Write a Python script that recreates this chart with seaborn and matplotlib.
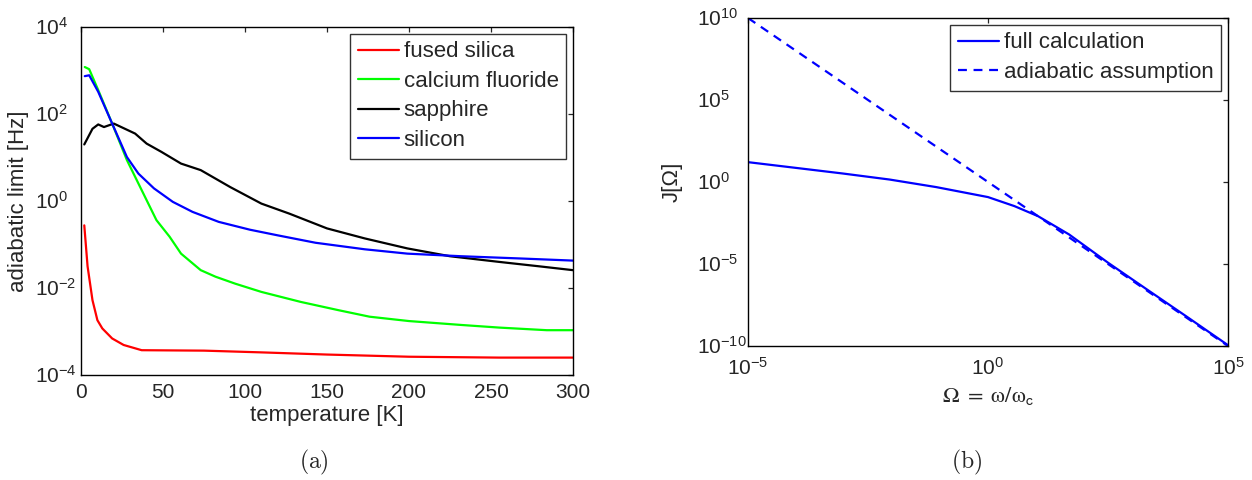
import numpy as np
import pandas as pd
import matplotlib
matplotlib.use('Agg')
import matplotlib.pyplot as plt
import seaborn as sns
from matplotlib.ticker import FixedLocator, FuncFormatter, NullLocator, NullFormatter
from matplotlib.transforms import blended_transform_factory, ScaledTranslation

# Data (log10 of the values)

# (a) adiabatic limit vs temperature
silica_T = [2, 4, 7, 10, 13, 19, 26, 37, 75, 110, 150, 200, 255, 300]
silica_log = [-0.56, -1.5, -2.28, -2.74, -2.93, -3.16, -3.31, -3.43, -3.44, -3.48, -3.53, -3.58, -3.60, -3.60]

caf_T = [2.3, 5, 10.5, 19, 28, 34, 40, 46, 54, 61, 73, 82, 94, 110, 134, 157, 176, 200, 232, 255, 284, 300]
caf_log = [3.08, 3.03, 2.55, 1.78, 0.94, 0.48, 0.02, -0.44, -0.82, -1.21, -1.59, -1.74, -1.90, -2.09,
           -2.32, -2.51, -2.66, -2.76, -2.85, -2.91, -2.97, -2.97]

sapph_T = [2, 7, 10.5, 14, 20, 33, 40, 49, 61, 73, 91, 110, 127, 150, 173, 199, 225, 255, 279, 300]
sapph_log = [1.30, 1.66, 1.76, 1.70, 1.78, 1.55, 1.32, 1.13, 0.86, 0.71, 0.32, -0.06, -0.29, -0.63,
             -0.86, -1.09, -1.27, -1.40, -1.50, -1.59]

si_T = [2.3, 5, 10.5, 19, 28, 35, 44.5, 56, 68, 84, 103, 120, 143, 173, 199, 232, 267, 300]
si_log = [2.87, 2.89, 2.51, 1.78, 1.01, 0.63, 0.29, -0.02, -0.25, -0.48, -0.66, -0.79, -0.96,
          -1.11, -1.21, -1.27, -1.32, -1.37]

# (b) J[Omega]
full_logx = [-5, -4, -3.03, -2.05, -1.08, 0.0, 0.55, 1.04, 1.69, 2.50, 3.31, 4.12, 5]
full_logy = [1.21, 0.86, 0.52, 0.15, -0.31, -0.92, -1.47, -2.08, -3.20, -4.92, -6.55, -8.17, -9.95]
adia_logx = [-5, 5]
adia_logy = [10, -10]

a_xticks = [0, 50, 100, 150, 200, 250, 300]
a_yticks = [1e-4, 1e-2, 1e0, 1e2, 1e4]
b_xticks = [1e-5, 1e0, 1e5]
b_yticks = [1e-10, 1e-5, 1e0, 1e5, 1e10]

sns.set_style('white')
plt.rcParams['font.family'] = ['Liberation Sans', 'DejaVu Sans']
plt.rcParams['mathtext.fontset'] = 'custom'
plt.rcParams['mathtext.rm'] = 'Liberation Sans'
plt.rcParams['mathtext.it'] = 'Liberation Sans'
plt.rcParams['mathtext.default'] = 'regular'
plt.rcParams['font.size'] = 16

W, H = 1252, 480
fig = plt.figure(figsize=(W / 100, H / 100), dpi=100)
ax1 = fig.add_axes([81 / W, 1 - 375 / H, (573 - 81) / W, (375 - 27) / H])
ax2 = fig.add_axes([748 / W, 1 - 346 / H, (1228 - 748) / W, (346 - 18) / H])


def pow10_str(v):
    e = int(round(np.log10(v)))
    return r'$10^{%s}$' % (str(e).replace('-', '\u2212'))


def log_ylabels(ax, vals, gap_px):
    # matlab style: labels left-aligned, the "10" centred on the tick
    trans = blended_transform_factory(ax.transAxes, ax.transData) + \
        ScaledTranslation(-gap_px / 100, -7.5 / 100, fig.dpi_scale_trans)
    ax.yaxis.set_major_formatter(NullFormatter())
    for v in vals:
        ax.text(0, v, pow10_str(v), transform=trans, ha='left', va='baseline',
                fontsize=15, clip_on=False)


lw = 1.6
series = [(silica_T, silica_log, 'red', 'fused silica'),
          (caf_T, caf_log, 'lime', 'calcium fluoride'),
          (sapph_T, sapph_log, 'black', 'sapphire'),
          (si_T, si_log, 'blue', 'silicon')]
for t, lg, c, name in series:
    df = pd.DataFrame({'T': t, 'v': 10 ** np.array(lg)})
    sns.lineplot(data=df, x='T', y='v', color=c, lw=lw, label=name, ax=ax1,
                 estimator=None, sort=False)

ax1.set_yscale('log')
ax1.set_xlim(0, 300)
ax1.set_ylim(1e-4, 1e4)
ax1.xaxis.set_major_locator(FixedLocator(a_xticks))
ax1.yaxis.set_major_locator(FixedLocator(a_yticks))
ax1.yaxis.set_minor_locator(NullLocator())
log_ylabels(ax1, a_yticks, 46)
ax1.set_xlabel('temperature [K]')
ax1.xaxis.set_label_coords(0.5, (375 - 405) / 348)
ax1.set_ylabel('adiabatic limit [Hz]')
ax1.yaxis.set_label_coords((29 - 81) / 492, 0.5)

legkw = dict(loc='upper right', frameon=True, fancybox=False, edgecolor='black',
             handlelength=1.85, handletextpad=0.22, borderaxespad=0.3, labelspacing=0.38,
             borderpad=0.35, fontsize=16)
leg1 = ax1.legend(**legkw)
leg1.get_frame().set_linewidth(1.0)

df_full = pd.DataFrame({'x': 10 ** np.array(full_logx, dtype=float), 'y': 10 ** np.array(full_logy)})
df_adia = pd.DataFrame({'x': 10 ** np.array(adia_logx, dtype=float), 'y': 10 ** np.array(adia_logy, dtype=float)})
sns.lineplot(data=df_full, x='x', y='y', color='blue', lw=lw, label='full calculation', ax=ax2,
             estimator=None, sort=False)
sns.lineplot(data=df_adia, x='x', y='y', color='blue', lw=lw,
             label='adiabatic assumption', ax=ax2, estimator=None, sort=False)
ax2.lines[-1].set_linestyle((0, (4, 3)))
ax2.set_xscale('log')
ax2.set_yscale('log')
ax2.set_xlim(1e-5, 1e5)
ax2.set_ylim(1e-10, 1e10)
ax2.xaxis.set_major_locator(FixedLocator(b_xticks))
ax2.yaxis.set_major_locator(FixedLocator(b_yticks))
ax2.xaxis.set_major_formatter(FuncFormatter(lambda v, p: pow10_str(v)))
ax2.xaxis.set_minor_locator(NullLocator())
ax2.yaxis.set_minor_locator(NullLocator())
log_ylabels(ax2, b_yticks, 51)
ax2.set_xlabel(r'$\mathrm{\Omega\ =\ \omega/\omega}_\mathsf{c}$',
               math_fontfamily='stix', fontsize=16)
ax2.xaxis.set_label_coords(0.5, (346 - 385) / 328)
ax2.set_ylabel('J[Ω]')
ax2.yaxis.set_label_coords((683 - 748) / 480, 0.5)
leg2 = ax2.legend(**legkw)
leg2.get_frame().set_linewidth(1.0)
leg2.get_lines()[1].set_linestyle((0, (4, 3)))

for ax in (ax1, ax2):
    ax.tick_params(direction='in', length=3.5, width=0.9, top=True, right=True, labelsize=15)
    for s in ax.spines.values():
        s.set_linewidth(1.0)
        s.set_color('black')
ax1.tick_params(axis='x', pad=6)
ax2.tick_params(axis='x', pad=8)

fig.text(314 / W, 1 - 462 / H, r'$\mathrm{(a)}$', ha='center', va='center',
         math_fontfamily='cm', fontsize=17)
fig.text(967 / W, 1 - 462 / H, r'$\mathrm{(b)}$', ha='center', va='center',
         math_fontfamily='cm', fontsize=17)

fig.savefig('out.png', dpi=100)
